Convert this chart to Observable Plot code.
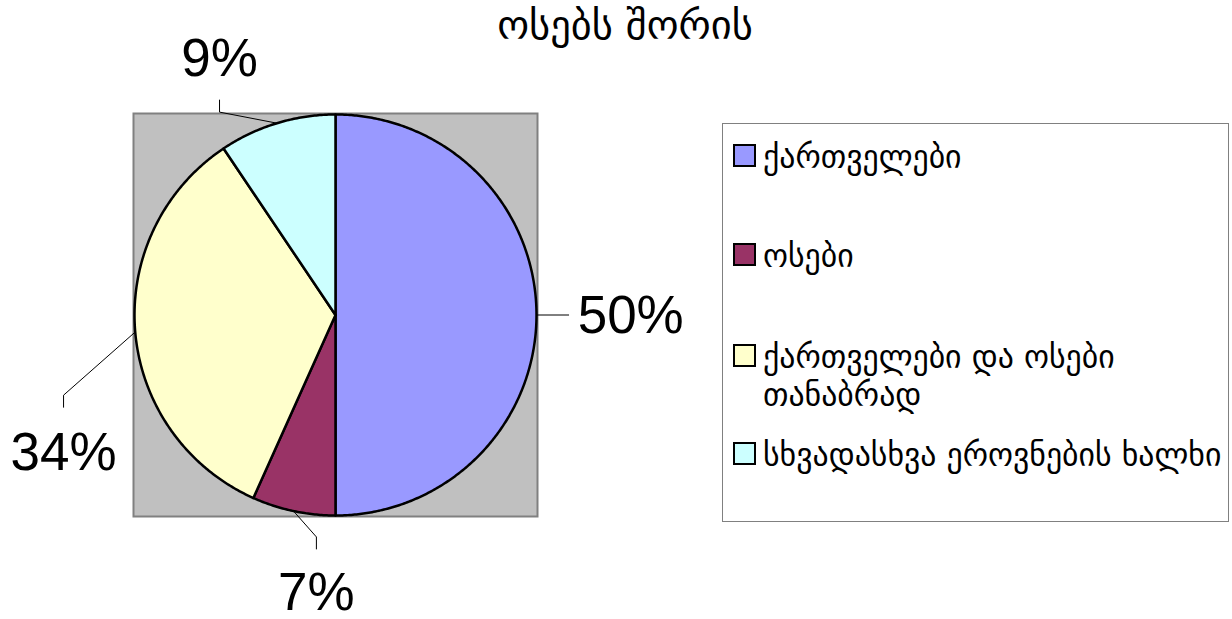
<!DOCTYPE html>
<html><head><meta charset="utf-8">
<script src="https://cdn.jsdelivr.net/npm/d3@7"></script>
<script src="https://cdn.jsdelivr.net/npm/@observablehq/plot@0.6"></script>
<style>
html,body{margin:0;padding:0;background:#fff;}
#wrap{position:relative;width:1232px;height:619px;overflow:hidden;font-family:"DejaVu Sans",sans-serif;color:#000;}
#wrap svg{position:absolute;left:0;top:0;}
#title{position:absolute;left:375px;width:500px;top:5px;text-align:center;font-size:40.5px;line-height:1;white-space:nowrap;}
#legend{position:absolute;left:722px;top:123px;width:505px;height:397px;border:1px solid #808080;}
.item{position:absolute;left:10px;width:494px;display:flex;align-items:flex-start;}
.sw{flex:none;width:19px;height:19px;border:2px solid #000;margin-top:1px;margin-right:7px;}
.lab{font-size:31.8px;line-height:38px;margin-top:-5px;width:464px;}
</style></head><body><div id="wrap"><div id="title"></div><div id="legend"></div></div>
<script>
// ---- data ----
const chartTitle = "ოსებს შორის";
const categories = ["ქართველები", "ოსები", "ქართველები და ოსები თანაბრად", "სხვადასხვა ეროვნების ხალხი"];
const shares = [50, 6.7, 33.9, 9.4];
const percentLabels = ["50%", "7%", "34%", "9%"];
// ---- style / layout ----
const colors = ["#9999ff", "#993366", "#ffffcc", "#ccffff"];
// leader elbow & end points (pie-radius units), label offsets
const leaderElbows = [null, [-0.095, -1.107], [-1.353, -0.40], [-0.577, 1.012]];
const leaderEnds = [[1.16, 0], [-0.095, -1.167], [-1.353, -0.46], [-0.577, 1.072]];
const labelAnchor = ["start", "middle", "middle", "middle"];
const labelDx = [9, 0, 0, 0];
const labelDy = [1, 44, 46, -41];

const R = 1.005;
const arcs = d3.pie().sort(null).value(d => d)(shares);
const slices = arcs.map((a, i) => {
  const pts = [{x: 0, y: 0}];
  const n = Math.max(2, Math.ceil((a.endAngle - a.startAngle) / (Math.PI / 360)));
  for (let k = 0; k <= n; k++) {
    const t = a.startAngle + (a.endAngle - a.startAngle) * k / n;
    pts.push({x: Math.sin(t), y: Math.cos(t)});
  }
  return pts;
});
const leaders = arcs.map((a, i) => {
  const m = (a.startAngle + a.endAngle) / 2;
  const pts = [{x: Math.sin(m), y: Math.cos(m)}];
  if (leaderElbows[i]) pts.push({x: leaderElbows[i][0], y: leaderElbows[i][1]});
  pts.push({x: leaderEnds[i][0], y: leaderEnds[i][1]});
  return pts;
});

const marks = [Plot.frame({fill: "#c0c0c0", stroke: "#808080", strokeWidth: 2})];
slices.forEach((pts, i) => marks.push(Plot.line(pts, {x: "x", y: "y", fill: colors[i], stroke: "#000", strokeWidth: 2.5, curve: "linear-closed", strokeLinejoin: "round"})));
leaders.forEach(pts => marks.push(Plot.line(pts, {x: "x", y: "y", stroke: "#000", strokeWidth: 1})));
percentLabels.forEach((t, i) => marks.push(Plot.text([t], {
  x: () => leaderEnds[i][0], y: () => leaderEnds[i][1], text: d => d,
  textAnchor: labelAnchor[i], dx: labelDx[i], dy: labelDy[i], lineAnchor: "middle",
  fontSize: 53, fontFamily: "Liberation Sans, Arial, sans-serif", fill: "#000"
})));

const chart = Plot.plot({
  width: 1232, height: 619,
  marginLeft: 133, marginRight: 695, marginTop: 113, marginBottom: 103,
  x: {domain: [-R, R], axis: null},
  y: {domain: [-R, R], axis: null},
  style: {background: "transparent", overflow: "visible"},
  marks
});
const wrap = document.getElementById("wrap");
wrap.insertBefore(chart, wrap.firstChild);
document.getElementById("title").textContent = chartTitle;

const legend = document.getElementById("legend");
const rowTops = [19, 118, 219, 317];
categories.forEach((c, i) => {
  const it = document.createElement("div");
  it.className = "item";
  it.style.top = rowTops[i] + "px";
  const sw = document.createElement("div");
  sw.className = "sw"; sw.style.background = colors[i];
  const lab = document.createElement("div");
  lab.className = "lab"; lab.textContent = c;
  it.appendChild(sw); it.appendChild(lab);
  legend.appendChild(it);
});
</script>
</body></html>
